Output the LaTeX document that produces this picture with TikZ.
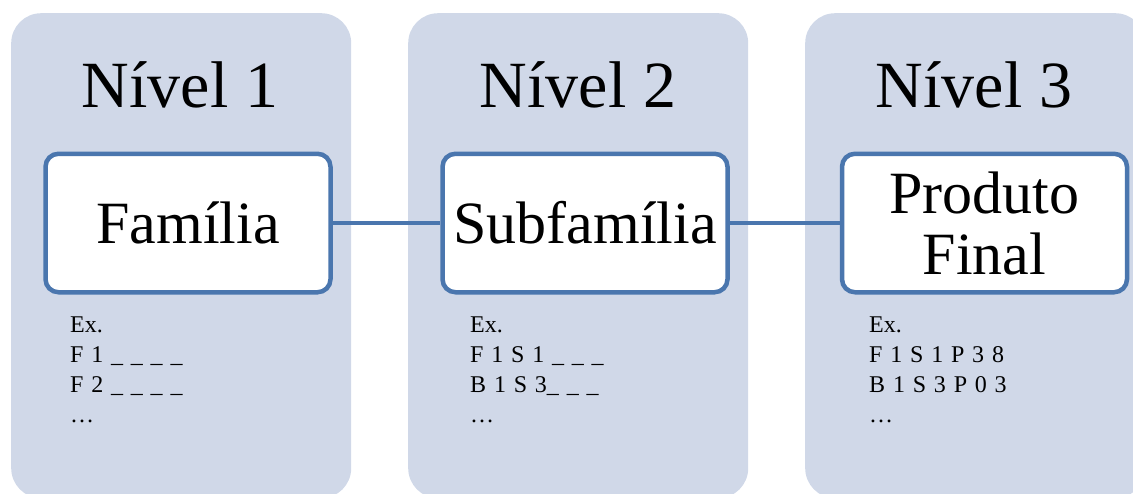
\documentclass[tikz,border=0pt]{standalone}
\usepackage{fontspec}
\setmainfont{Liberation Serif}
\newfontfamily\notefont[WordSpace=1.3]{Liberation Serif}
\definecolor{panelfill}{RGB}{208,216,232}
\definecolor{boxline}{RGB}{74,118,174}
\begin{document}
\begin{tikzpicture}[x=1pt,y=-1pt,
  panel/.style={fill=panelfill, rounded corners=30pt, minimum width=340pt,
    minimum height=485pt, inner sep=0pt, anchor=north west},
  leveltitle/.style={anchor=base, inner sep=0pt, font=\fontsize{66}{78}\selectfont},
  levelbox/.style={draw=boxline, line width=4.5pt, fill=white, rounded corners=13pt,
    minimum width=285pt, minimum height=138.5pt, inner sep=0pt, align=center,
    font=\fontsize{60}{61}\selectfont},
  link/.style={draw=boxline, line width=4pt},
  note/.style={anchor=north west, inner sep=0pt, align=left,
    font=\notefont\fontsize{24}{30}\selectfont}]
  \clip (0,0) rectangle (1133,493);

  % background columns
  \node[panel] (p1) at (11,13) {};
  \node[panel] (p2) at (408,13) {};
  \node[panel] (p3) at (805,13) {};

  % column headings
  \node[leveltitle] (t1) at (180,107) {Nível 1};
  \node[leveltitle] (t2) at (578,107) {Nível 2};
  \node[leveltitle] (t3) at (974,107) {Nível 3};

  % hierarchy boxes
  \node[levelbox] (b1) at (188,223) {Família};
  \node[levelbox] (b2) at (585,223) {Subfamília};
  \node[levelbox] (b3) at (984.5,223) {Produto\\Final};

  % links between levels
  \draw[link] (b1.east) -- (b2.west);
  \draw[link] (b2.east) -- (b3.west);

  % code examples
  \node[note] (n1) at (70,317) {Ex.\\F 1 \_ \_ \_ \_\\F 2 \_ \_ \_ \_\\…};
  \node[note] (n2) at (470,317) {Ex.\\F 1 S 1 \_ \_ \_\\B 1 S 3\_ \_ \_\\…};
  \node[note] (n3) at (869,317) {Ex.\\F 1 S 1 P 3 8\\B 1 S 3 P 0 3\\…};
\end{tikzpicture}
\end{document}
